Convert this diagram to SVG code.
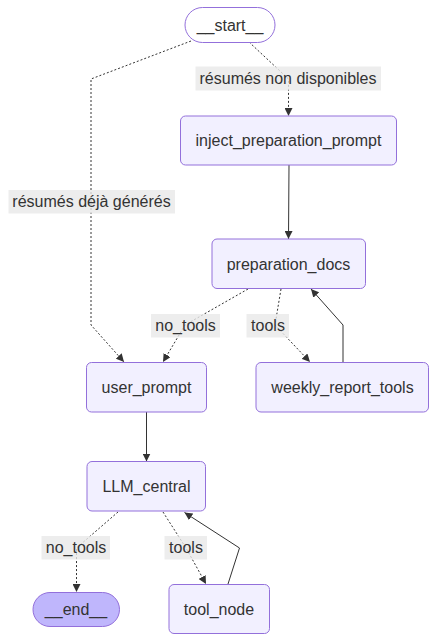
<svg xmlns="http://www.w3.org/2000/svg" width="437" height="642" viewBox="0 0 437 642">
<style>
.node rect{fill:#f2f0ff;stroke:#9370db;stroke-width:1}
.first rect{fill:#ffffff}
.last rect{fill:#bfb6fc}
text{font-family:"Liberation Sans",Arial,sans-serif;font-size:16px;fill:#333;text-anchor:middle}
.edge{fill:none;stroke:#333;stroke-width:1}
.dot{stroke-dasharray:2 2}
.lbl{fill:#e8e8e8;opacity:0.8}
</style>
<defs>
<marker id="arr" viewBox="0 0 10 10" refX="10" refY="5" markerUnits="userSpaceOnUse" markerWidth="8" markerHeight="8" orient="auto">
<path d="M0,0 L10,5 L0,10 z" fill="#333"/>
</marker>
</defs>
<g id="edges">
<path class="edge dot" d="M191,41 L91,79 L91,325 L124,362" marker-end="url(#arr)"/>
<path class="edge dot" d="M249,42 L288.5,79 L288.5,116" marker-end="url(#arr)"/>
<path class="edge" d="M289,165 L288.5,239" marker-end="url(#arr)"/>
<path class="edge dot" d="M248,289 L185,325 L163,362" marker-end="url(#arr)"/>
<path class="edge dot" d="M281,289 L275,325 L310,362" marker-end="url(#arr)"/>
<path class="edge" d="M343,362 L343,325 L311,289" marker-end="url(#arr)"/>
<path class="edge" d="M146.5,412 L146.5,461.5" marker-end="url(#arr)"/>
<path class="edge dot" d="M118,512 L76.5,548 L76.5,592" marker-end="url(#arr)"/>
<path class="edge dot" d="M163,512 L186,548 L206,584" marker-end="url(#arr)"/>
<path class="edge" d="M228,584 L239.5,548 L184.5,512.5" marker-end="url(#arr)"/>
<rect class="lbl" x="8.5" y="190" width="166.5" height="23.5"/>
<text x="91.5" y="207">résumés déjà générés</text>
<rect class="lbl" x="195.5" y="66.5" width="185.5" height="24"/>
<text x="288" y="84">résumés non disponibles</text>
<rect class="lbl" x="151" y="314" width="69" height="23.5"/>
<text x="185.5" y="331">no_tools</text>
<rect class="lbl" x="246.5" y="314" width="42.5" height="23.5"/>
<text x="268" y="331">tools</text>
<rect class="lbl" x="41.5" y="536" width="68.5" height="23.5"/>
<text x="76" y="553">no_tools</text>
<rect class="lbl" x="164.5" y="536" width="42.5" height="23.5"/>
<text x="186" y="553">tools</text>
</g>
<g id="start" class="node first">
<rect x="185" y="7.5" width="90" height="35" rx="17.5"/>
<text x="230" y="30.5">__start__</text>
</g>
<g id="inject_preparation_prompt" class="node">
<rect x="180.5" y="116" width="216" height="49" rx="5"/>
<text x="288.5" y="146">inject_preparation_prompt</text>
</g>
<g id="preparation_docs" class="node">
<rect x="212" y="239" width="153.5" height="49.5" rx="5"/>
<text x="288.5" y="269.5">preparation_docs</text>
</g>
<g id="user_prompt" class="node">
<rect x="86.5" y="362.5" width="120" height="49.5" rx="5"/>
<text x="146.5" y="393">user_prompt</text>
</g>
<g id="weekly_report_tools" class="node">
<rect x="256" y="362.5" width="172.5" height="49.5" rx="5"/>
<text x="342.5" y="393">weekly_report_tools</text>
</g>
<g id="LLM_central" class="node">
<rect x="87" y="461.5" width="118.5" height="49.5" rx="5"/>
<text x="146.5" y="492">LLM_central</text>
</g>
<g id="end" class="node last">
<rect x="33" y="592.5" width="86.5" height="34" rx="17"/>
<text x="76" y="615">__end__</text>
</g>
<g id="tool_node" class="node">
<rect x="169" y="584.5" width="100.5" height="49" rx="5"/>
<text x="219" y="615">tool_node</text>
</g>
</svg>
